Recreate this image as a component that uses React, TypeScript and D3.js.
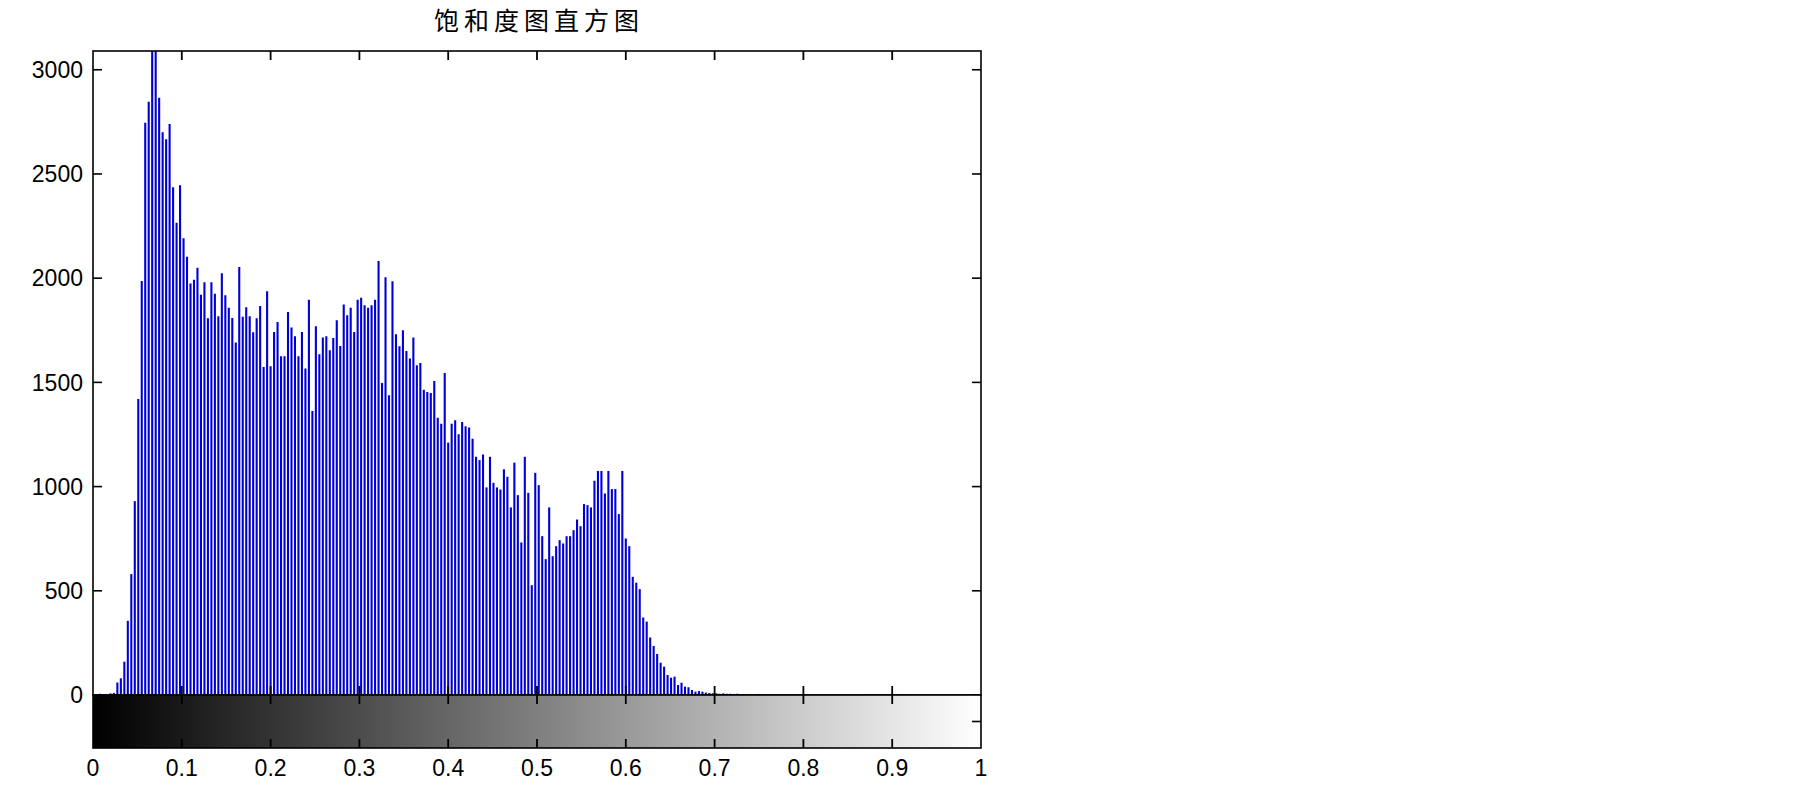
import React from 'react';
import * as d3 from 'd3';

// 饱和度直方图: 256 bins (imhist style)
const title = '饱和度图直方图';

const counts = [
  0, 0, 6, 0, 0, 8, 10, 60, 80, 160,
  356, 580, 930, 1420, 1986, 2746, 2846, 3090, 3090, 2866,
  2700, 2666, 2740, 2436, 2266, 2446, 2192, 2103, 1974, 1993,
  2050, 1920, 1980, 1808, 1980, 1925, 1817, 2024, 1918, 1858,
  1809, 1691, 2054, 1815, 1860, 1817, 1740, 1808, 1867, 1574,
  1937, 1577, 1742, 1790, 1625, 1625, 1838, 1763, 1721, 1625,
  1742, 1566, 1897, 1363, 1769, 1635, 1715, 1721, 1654, 1713,
  1798, 1675, 1874, 1822, 1858, 1742, 1897, 1906, 1870, 1858,
  1870, 1897, 2082, 1497, 2005, 1438, 1985, 1731, 1673, 1750,
  1651, 1614, 1715, 1582, 1593, 1465, 1454, 1449, 1507, 1330,
  1302, 1545, 1211, 1302, 1318, 1251, 1310, 1290, 1283, 1230,
  1143, 1127, 1154, 996, 1143, 1018, 996, 986, 1083, 1047,
  900, 1115, 959, 732, 1143, 970, 527, 1066, 1007, 762,
  652, 900, 666, 714, 743, 727, 762, 762, 791, 842,
  810, 916, 911, 900, 1028, 1075, 1075, 967, 1075, 988,
  988, 868, 1075, 751, 714, 567, 539, 508, 372, 352,
  276, 235, 197, 155, 136, 96, 83, 88, 48, 59,
  40, 37, 24, 16, 19, 16, 12, 10, 8, 8,
  6, 8, 6, 6, 5, 6, 0, 3, 0, 0,
  0, 5, 0, 0, 0, 0, 0, 0, 0, 0,
  0, 0, 0, 0, 0, 0, 0, 0, 0, 0,
  0, 0, 0, 0, 0, 0, 0, 0, 0, 0,
  0, 0, 0, 0, 0, 0, 0, 0, 0, 0,
  0, 0, 0, 0, 0, 0, 0, 0, 0, 0,
  0, 0, 0, 0, 0, 0, 0, 0, 0, 0,
  0, 0, 0, 0, 0, 0,
];

const yTicks = [0, 500, 1000, 1500, 2000, 2500, 3000];
const xTicks = [0, 0.1, 0.2, 0.3, 0.4, 0.5, 0.6, 0.7, 0.8, 0.9, 1];
const xTickLabels = ['0', '0.1', '0.2', '0.3', '0.4', '0.5', '0.6', '0.7', '0.8', '0.9', '1'];

const W = 1805;
const H = 785;
const left = 93;
const right = 981;
const top = 51;
const zeroY = 695;
const barBottom = 748;
const tickLen = 9;
const font = '"Liberation Sans", Arial, sans-serif';

export default function App() {
  const n = counts.length;
  const x = d3.scaleLinear().domain([0, 1]).range([left, right]);
  const y = d3.scaleLinear().domain([0, d3.max(counts) as number]).range([zeroY, top]);
  const binX = (i: number) => x(i / (n - 1));
  const innerTicks = xTicks.slice(1, -1);

  return (
    <svg
      width={W}
      height={H}
      style={{ position: 'absolute', left: 0, top: 0, background: '#fff' }}
    >
      <defs>
        <clipPath id="plot">
          <rect x={left} y={top} width={right - left} height={zeroY - top} />
        </clipPath>
        <linearGradient id="gray" x1="0" x2="1" y1="0" y2="0">
          <stop offset="0" stopColor="#000" />
          <stop offset="1" stopColor="#fff" />
        </linearGradient>
      </defs>
      <rect x={0} y={0} width={W} height={H} fill="#fff" />

      <text
        x={(left + right) / 2 + 2}
        y={30}
        textAnchor="middle"
        fontFamily='"Noto Sans CJK SC", sans-serif'
        fontSize={25}
        letterSpacing={5}
        fill="#000"
      >
        {title}
      </text>

      {/* stems */}
      <g clipPath="url(#plot)">
        {counts.map((v, i) =>
          v > 0 ? (
            <line
              key={i}
              x1={binX(i)}
              x2={binX(i)}
              y1={y(0)}
              y2={y(v)}
              stroke="#0000d4"
              strokeWidth={2.1}
            />
          ) : null
        )}
      </g>

      {/* histogram axes box */}
      <rect x={left} y={top} width={right - left} height={zeroY - top} fill="none" stroke="#000" strokeWidth={1.6} />
      {yTicks.map((t) => (
        <g key={'y' + t}>
          <line x1={left} x2={left + tickLen} y1={y(t)} y2={y(t)} stroke="#000" strokeWidth={1.6} />
          <line x1={right} x2={right - tickLen} y1={y(t)} y2={y(t)} stroke="#000" strokeWidth={1.6} />
          <text
            x={left - 10}
            y={y(t)}
            dy="0.36em"
            textAnchor="end"
            fontFamily={font}
            fontSize={23}
            fill="#000"
          >
            {t}
          </text>
        </g>
      ))}
      {innerTicks.map((t) => (
        <g key={'xt' + t}>
          <line x1={x(t)} x2={x(t)} y1={zeroY} y2={zeroY - tickLen} stroke="#000" strokeWidth={1.8} />
          <line x1={x(t)} x2={x(t)} y1={top} y2={top + tickLen} stroke="#000" strokeWidth={1.8} />
        </g>
      ))}

      {/* gray colorbar */}
      <rect x={left} y={zeroY} width={right - left} height={barBottom - zeroY} fill="url(#gray)" />
      <rect x={left} y={zeroY} width={right - left} height={barBottom - zeroY} fill="none" stroke="#000" strokeWidth={1.6} />
      {innerTicks.map((t) => (
        <g key={'cb' + t}>
          <line x1={x(t)} x2={x(t)} y1={zeroY} y2={zeroY + tickLen} stroke="#000" strokeWidth={1.8} />
          <line x1={x(t)} x2={x(t)} y1={barBottom} y2={barBottom - tickLen} stroke="#000" strokeWidth={1.8} />
        </g>
      ))}
      <line
        x1={right}
        x2={right - tickLen}
        y1={(zeroY + barBottom) / 2}
        y2={(zeroY + barBottom) / 2}
        stroke="#000"
        strokeWidth={1.6}
      />
      {xTicks.map((t, i) => (
        <text
          key={'xl' + t}
          x={x(t)}
          y={776}
          textAnchor="middle"
          fontFamily={font}
          fontSize={23}
          fill="#000"
        >
          {xTickLabels[i]}
        </text>
      ))}
    </svg>
  );
}
